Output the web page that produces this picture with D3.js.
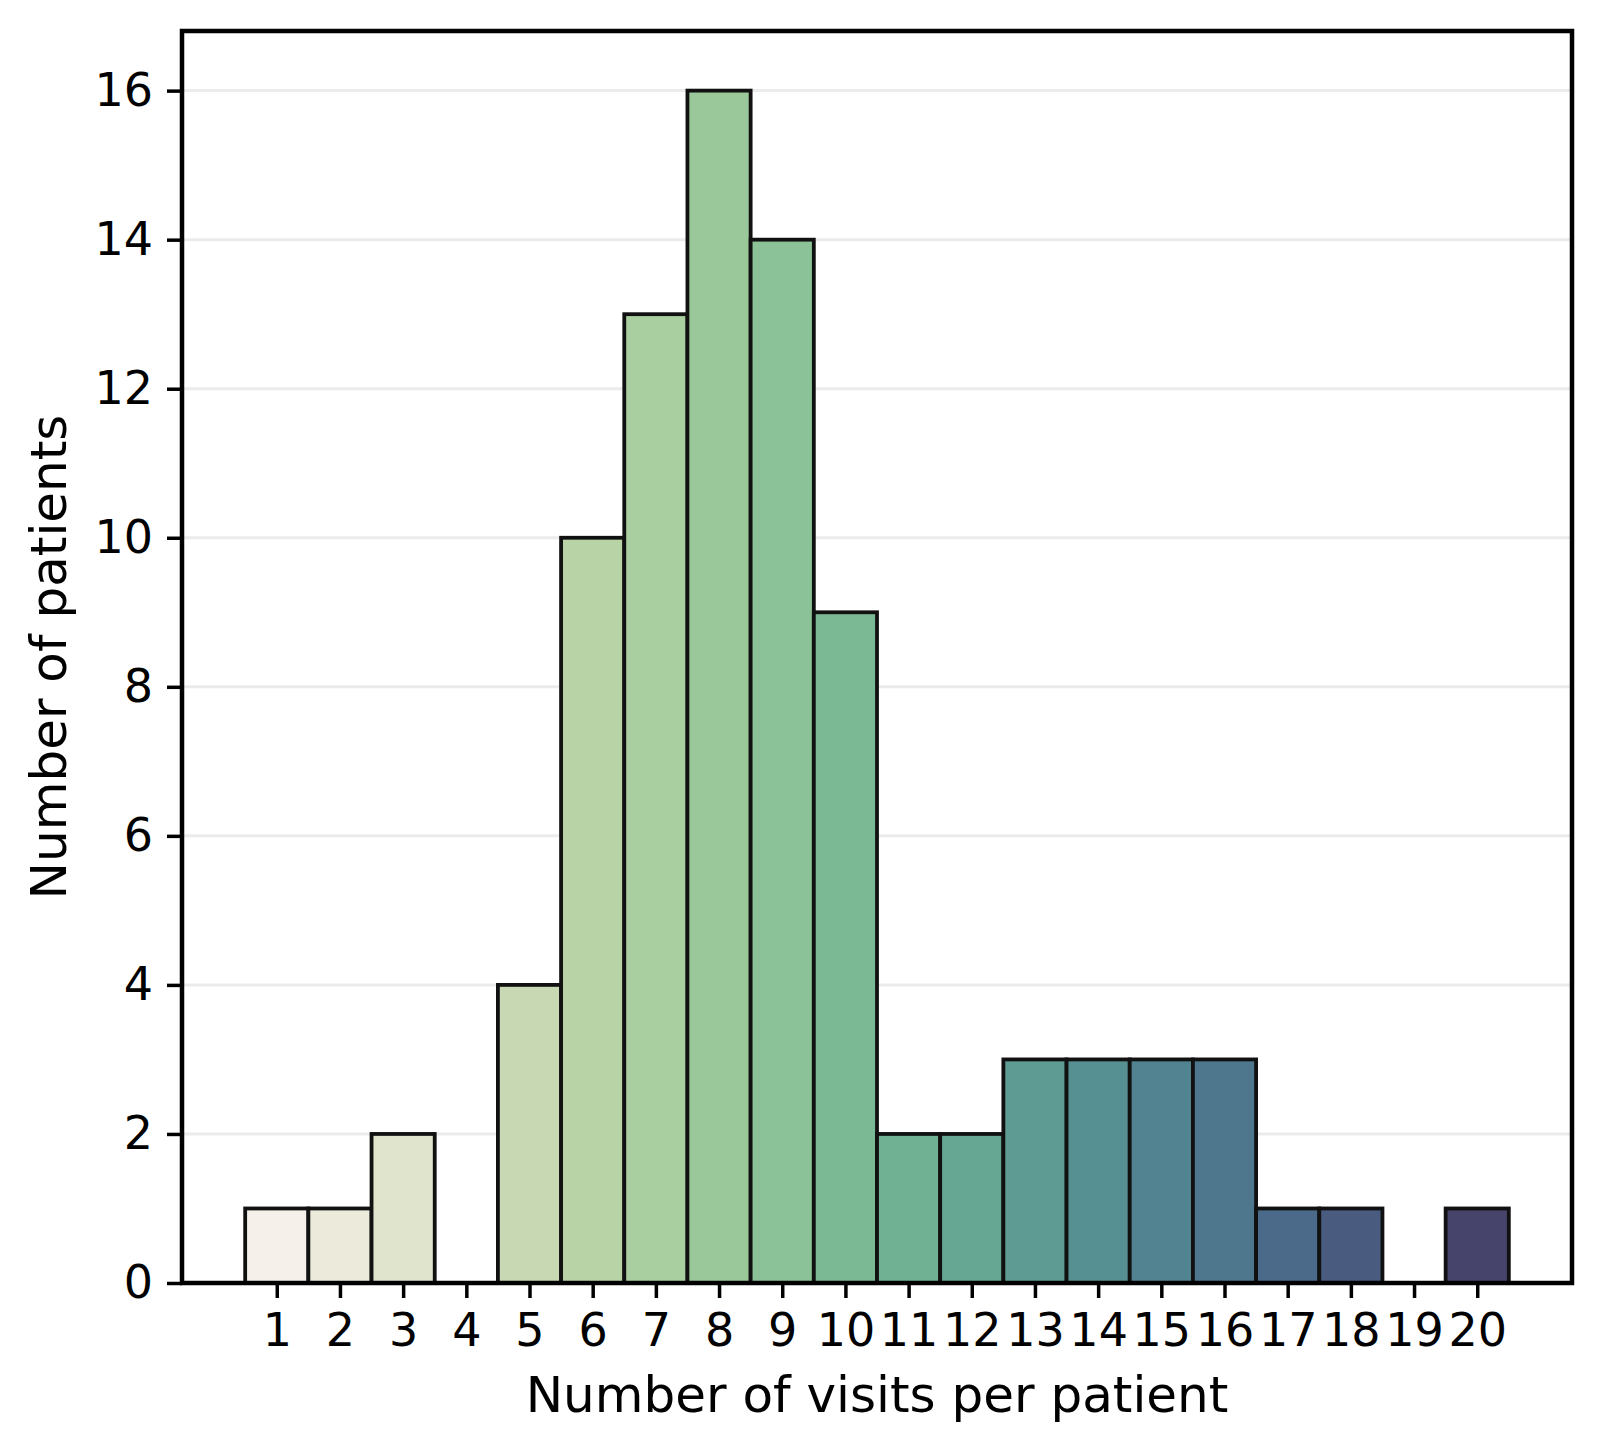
<!DOCTYPE html>
<html lang="en">
<head>
<meta charset="UTF-8">
<title>Number of visits per patient</title>
<script src="https://d3js.org/d3.v7.min.js"></script>
<style>
    body { margin: 0; background: #fff; }
    svg text { font-family: "DejaVu Sans", sans-serif; fill: #000; }
    .tick line { stroke: #000; stroke-width: 3.5; }
    .grid line { stroke: #ebebeb; stroke-width: 3; }
</style>
</head>
<body>
<div id="chart"></div>
<script>
// data
const visits = [1, 2, 3, 4, 5, 6, 7, 8, 9, 10, 11, 12, 13, 14, 15, 16, 17, 18, 19, 20];
const patients = [1, 1, 2, 0, 4, 10, 13, 16, 14, 9, 2, 2, 3, 3, 3, 3, 1, 1, 0, 1];
const barColors = ["#f5f1ea", "#ecebdb", "#e1e4cd", "#d5ddc0", "#c8d8b3", "#b8d4a7", "#a9cfa0",
    "#9bc89b", "#8bc297", "#7bb894", "#70b193", "#66a793", "#5e9c93", "#579092", "#518490",
    "#4e768d", "#4b6989", "#4a5b80", "#48507a", "#47446b"];
const yTicks = [0, 2, 4, 6, 8, 10, 12, 14, 16];

const W = 1602, H = 1452;
const margin = { top: 31, right: 30, bottom: 169, left: 182 };

const svg = d3.select("#chart").append("svg")
    .attr("width", W)
    .attr("height", H);

const x = d3.scaleLinear()
    .domain([-0.5, 21.5])
    .range([margin.left, W - margin.right]);

const y = d3.scaleLinear()
    .domain([0, 16.8])
    .range([H - margin.bottom, margin.top]);

// grid
svg.append("g")
    .attr("class", "grid")
    .selectAll("line")
    .data(yTicks.filter(d => d > 0))
    .join("line")
    .attr("x1", x.range()[0])
    .attr("x2", x.range()[1])
    .attr("y1", d => y(d))
    .attr("y2", d => y(d));

// bars
svg.append("g")
    .selectAll("rect")
    .data(visits)
    .join("rect")
    .attr("x", d => x(d - 0.5))
    .attr("width", d => x(d + 0.5) - x(d - 0.5))
    .attr("y", (d, i) => y(patients[i]))
    .attr("height", (d, i) => y(0) - y(patients[i]))
    .attr("fill", (d, i) => barColors[i])
    .attr("stroke", "#111")
    .attr("stroke-width", 3.8);

// axes
const xAxis = svg.append("g")
    .attr("transform", `translate(0,${y(0)})`)
    .call(d3.axisBottom(x).tickValues(visits).tickFormat(d3.format("d"))
        .tickSize(15).tickPadding(15).tickSizeOuter(0));
xAxis.select(".domain").remove();
xAxis.selectAll("text").style("font-size", "46px");

const yAxis = svg.append("g")
    .attr("transform", `translate(${x.range()[0]},0)`)
    .call(d3.axisLeft(y).tickValues(yTicks).tickFormat(d3.format("d"))
        .tickSize(15).tickPadding(14).tickSizeOuter(0));
yAxis.select(".domain").remove();
yAxis.selectAll("text").style("font-size", "46px");

// frame
svg.append("rect")
    .attr("x", x.range()[0])
    .attr("y", y.range()[1])
    .attr("width", x.range()[1] - x.range()[0])
    .attr("height", y.range()[0] - y.range()[1])
    .attr("fill", "none")
    .attr("stroke", "#000")
    .attr("stroke-width", 4.5);

// labels
svg.append("text")
    .attr("x", (x.range()[0] + x.range()[1]) / 2)
    .attr("y", 1412)
    .attr("text-anchor", "middle")
    .style("font-size", "50px")
    .text("Number of visits per patient");

svg.append("text")
    .attr("transform", `translate(66,${(y.range()[0] + y.range()[1]) / 2}) rotate(-90)`)
    .attr("text-anchor", "middle")
    .style("font-size", "50px")
    .text("Number of patients");
</script>
</body>
</html>
